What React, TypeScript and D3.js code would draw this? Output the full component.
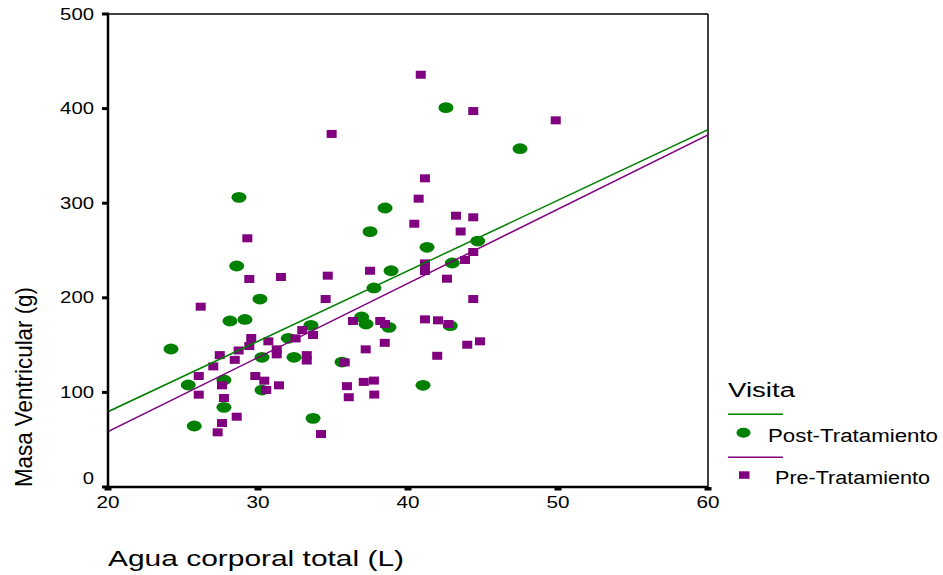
import React from "react";
import * as d3 from "d3";

// Post-Tratamiento (green circles): [Agua corporal total (L), Masa Ventricular (g)]
const postX = [24.2, 25.35, 25.75, 28.73, 28.58, 28.13, 29.13, 27.73, 27.73, 30.13, 30.27, 30.27, 32.02, 32.4, 33.53, 33.67, 35.6, 36.91, 37.2, 37.47, 37.73, 38.47, 38.73, 38.87, 42.53, 41.27, 41.0, 42.82, 42.95, 44.65, 47.47];
const postY = [145.9, 107.8, 64.5, 306.2, 233.6, 175.5, 177.1, 113.1, 84.2, 198.7, 137.1, 102.5, 157.2, 137.1, 170.9, 72.6, 132.1, 179.7, 172.3, 269.9, 210.4, 294.9, 168.8, 228.6, 401.0, 253.4, 107.5, 170.5, 236.8, 260.0, 357.6];

// Pre-Tratamiento (purple squares)
const preX = [26.18, 29.29, 29.42, 31.53, 34.65, 34.51, 37.47, 40.71, 40.42, 29.55, 29.42, 30.69, 28.71, 27.45, 28.45, 31.25, 31.25, 32.95, 32.51, 33.67, 33.25, 33.25, 27.02, 26.05, 27.6, 26.05, 27.73, 29.82, 30.42, 30.55, 31.4, 28.58, 27.6, 27.31, 34.2, 36.33, 38.15, 38.47, 37.18, 38.45, 35.78, 35.93, 36.05, 37.05, 37.73, 37.75, 40.85, 44.35, 49.85, 34.91, 41.13, 43.2, 44.35, 43.51, 44.35, 43.8, 41.13, 41.13, 42.6, 44.35, 41.13, 42.0, 42.69, 43.95, 44.8, 41.95];
const preY = [190.6, 262.9, 219.9, 222.0, 223.4, 198.7, 228.6, 304.8, 278.3, 157.5, 149.0, 154.0, 144.3, 139.4, 134.4, 145.5, 140.2, 165.9, 157.1, 160.7, 139.4, 133.7, 127.5, 117.3, 107.5, 97.6, 94.1, 117.3, 112.4, 102.6, 107.5, 74.3, 67.6, 57.8, 56.0, 175.5, 175.5, 172.3, 145.5, 152.4, 131.7, 106.6, 94.9, 111.1, 112.5, 97.7, 435.8, 397.4, 387.6, 373.2, 326.3, 286.8, 285.1, 270.1, 248.4, 240.0, 236.4, 228.3, 220.2, 198.7, 177.2, 176.2, 172.3, 150.4, 154.0, 138.7];

// Fit lines (slope, intercept)
const fitSlope = [7.45, 7.84];
const fitIntercept = [-69.4, -98.3];

const xTicks = [20, 30, 40, 50, 60];
const yTicks = [0, 100, 200, 300, 400, 500];
const seriesNames = ["Post-Tratamiento", "Pre-Tratamiento"];
const seriesColors = ["#008000", "#800080"];

const FONT = "'Liberation Sans', Arial, sans-serif";

export default function App() {
  const x = d3.scaleLinear().domain([20, 60]).range([108, 708]);
  const y = d3.scaleLinear().domain([0, 500]).range([487, 14]);
  const [x0, x1] = x.domain();

  const fitLine = (i: number) =>
    d3.line<number>()
      .x((v) => x(v))
      .y((v) => y(fitSlope[i] * v + fitIntercept[i]))([x0, x1]) || "";

  return (
    <div style={{ position: "fixed", left: 0, top: 0 }}>
      <svg width={943} height={575} style={{ display: "block", background: "#fff" }}>
        <rect x={0} y={0} width={943} height={575} fill="#fff" />
        <defs>
          <clipPath id="plotclip">
            <rect x={108} y={14} width={600} height={473} />
          </clipPath>
        </defs>

        {/* frame */}
        <line x1={108} x2={708} y1={14} y2={14} stroke="#000" strokeWidth={1.5} />
        <line x1={708} x2={708} y1={14} y2={487} stroke="#000" strokeWidth={1.5} />

        {/* points */}
        <g>
          {postX.map((v, i) => (
            <ellipse key={"p" + i} cx={x(v)} cy={y(postY[i])} rx={7.5} ry={5.4} fill={seriesColors[0]} />
          ))}
          {preX.map((v, i) => (
            <rect key={"q" + i} x={x(v) - 5} y={y(preY[i]) - 4} width={10} height={8} fill={seriesColors[1]} />
          ))}
        </g>

        {/* fit lines */}
        <g clipPath="url(#plotclip)">
          <path d={fitLine(0)} stroke={seriesColors[0]} strokeWidth={1.5} fill="none" />
          <path d={fitLine(1)} stroke={seriesColors[1]} strokeWidth={1.5} fill="none" />
        </g>

        {/* axes */}
        <line x1={108} x2={108} y1={14} y2={488} stroke="#000" strokeWidth={2.5} />
        <line x1={107} x2={708} y1={487} y2={487} stroke="#000" strokeWidth={2.5} />

        {yTicks.map((t) => (
          <g key={"yt" + t}>
            <rect x={102} y={y(t) - 1.5} width={7} height={3} fill="#000" />
            <text
              x={94}
              y={y(t) - (t === 0 ? 9 : 0)}
              dy="0.35em"
              textAnchor="end"
              fontFamily={FONT}
              fontSize={16}
              textLength={String(t).length * 11.3}
              lengthAdjust="spacingAndGlyphs"
            >
              {t}
            </text>
          </g>
        ))}
        {xTicks.map((t) => (
          <g key={"xt" + t}>
            <rect x={x(t) - 3.5} y={487} width={7} height={3.5} fill="#000" />
            <text
              x={x(t)}
              y={508}
              textAnchor="middle"
              fontFamily={FONT}
              fontSize={16}
              textLength={String(t).length * 11.5}
              lengthAdjust="spacingAndGlyphs"
            >
              {t}
            </text>
          </g>
        ))}

        {/* axis titles */}
        <text
          x={108}
          y={566}
          fontFamily={FONT}
          fontSize={22}
          textLength={296}
          lengthAdjust="spacingAndGlyphs"
        >
          Agua corporal total (L)
        </text>
        <text
          transform="translate(32,487) rotate(-90)"
          x={0}
          y={0}
          fontFamily={FONT}
          fontSize={24}
          textLength={200}
          lengthAdjust="spacingAndGlyphs"
        >
          Masa Ventricular (g)
        </text>

        {/* legend */}
        <text x={728} y={397} fontFamily={FONT} fontSize={20} textLength={67} lengthAdjust="spacingAndGlyphs">
          Visita
        </text>
        <line x1={728} x2={783} y1={414.3} y2={414.3} stroke={seriesColors[0]} strokeWidth={1.5} />
        <ellipse cx={743.5} cy={432.7} rx={7} ry={5} fill={seriesColors[0]} />
        <text x={768} y={442.3} fontFamily={FONT} fontSize={18} textLength={170} lengthAdjust="spacingAndGlyphs">
          {seriesNames[0]}
        </text>
        <line x1={728} x2={783} y1={457.3} y2={457.3} stroke={seriesColors[1]} strokeWidth={1.5} />
        <rect x={739} y={471.3} width={10.5} height={7.5} fill={seriesColors[1]} />
        <text x={775} y={484} fontFamily={FONT} fontSize={18} textLength={155} lengthAdjust="spacingAndGlyphs">
          {seriesNames[1]}
        </text>
      </svg>
    </div>
  );
}
